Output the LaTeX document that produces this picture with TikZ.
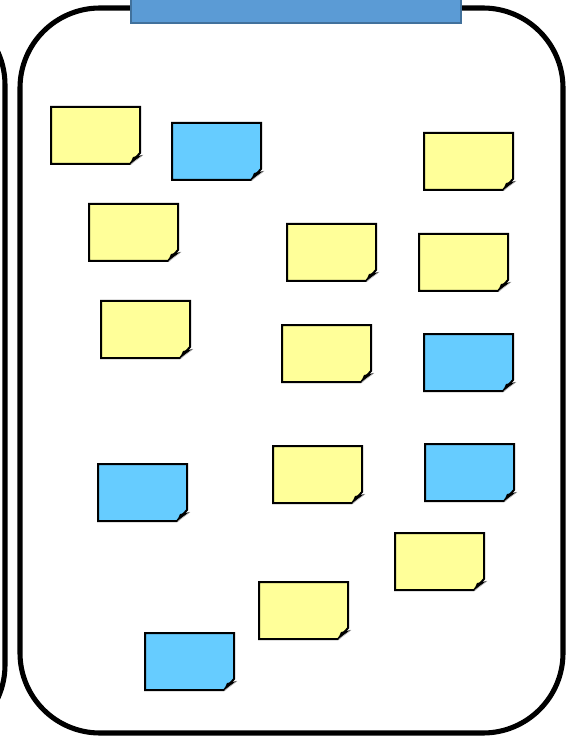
\documentclass[tikz,border=0pt]{standalone}
\definecolor{noteY}{HTML}{FFFF99}
\definecolor{noteB}{HTML}{66CCFF}
\definecolor{banner}{HTML}{5B9BD5}
\definecolor{bannerline}{HTML}{41719C}
\tikzset{
  panel/.style={draw=black, line width=3.8pt, rounded corners=60pt},
  notebody/.style={draw=black, line width=1.5pt, line join=miter},
}
\newcommand{\stickynote}[4]{% x, y, colour, name
  \fill[#3, notebody] (#1,#2) -- ++(89,0) -- ++(0,46) -- ++(-10,11) -- ++(-79,0) -- cycle;
  \fill[black] (#1+79,#2+57) -- (#1+82,#2+50) -- (#1+92,#2+48) -- cycle;
  \draw[gray!60, line width=0.5pt] (#1+79.5,#2+57.5) -- (#1+92,#2+48);
  \coordinate (#4) at (#1+44.5,#2+28.5);
}
\begin{document}
\begin{tikzpicture}[x=0.75pt,y=-0.75pt]
\useasboundingbox (0,0) rectangle (569,737);
\begin{scope}
\clip (0,0) rectangle (569,737);
\draw[panel] (-300,5) rectangle (5,745);
\draw[panel] (20,8) rectangle (563,733);
\fill[banner, draw=bannerline, line width=1.5pt] (131,-10) rectangle (461,23);
\end{scope}
\stickynote{51}{107}{noteY}{n1}
\stickynote{172}{123}{noteB}{n2}
\stickynote{424}{133}{noteY}{n3}
\stickynote{89}{204}{noteY}{n4}
\stickynote{287}{224}{noteY}{n5}
\stickynote{419}{234}{noteY}{n6}
\stickynote{101}{301}{noteY}{n7}
\stickynote{282}{325}{noteY}{n8}
\stickynote{424}{334}{noteB}{n9}
\stickynote{98}{464}{noteB}{n10}
\stickynote{273}{446}{noteY}{n11}
\stickynote{425}{444}{noteB}{n12}
\stickynote{395}{533}{noteY}{n13}
\stickynote{259}{582}{noteY}{n14}
\stickynote{145}{633}{noteB}{n15}
\end{tikzpicture}
\end{document}
